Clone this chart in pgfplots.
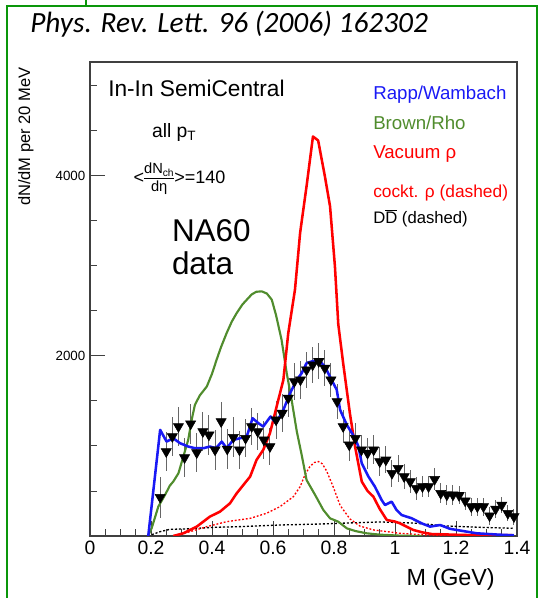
\documentclass[border=0pt]{standalone}
\usepackage{pgfplots}
\pgfplotsset{compat=1.18}
\usepackage{fontspec}
\setmainfont{Liberation Sans}
\newfontfamily\carlito{Carlito}
\definecolor{rwblue}{RGB}{25,25,245}
\definecolor{brgreen}{RGB}{80,140,45}
\definecolor{vred}{RGB}{255,0,0}
\definecolor{frgreen}{RGB}{10,150,10}
\begin{document}
\begin{tikzpicture}
\useasboundingbox (0,0) rectangle (404.25pt,448.5pt);
% slide frame
\draw[frgreen, line width=1.6pt] (5.25pt,-2pt) -- (5.25pt,444pt) -- (402.75pt,444pt) -- (402.75pt,-2pt);
\draw[frgreen, line width=1.6pt] (64.5pt,444pt) -- (64.5pt,450pt);
\node[anchor=base west, inner sep=0pt, font=\carlito\itshape\fontsize{22}{22}\selectfont] at (22.5pt,423.75pt) {Phys. Rev. Lett. 96 (2006) 162302};
\begin{axis}[
  at={(67.5pt,46.5pt)}, anchor=south west,
  width=320.25pt, height=355.5pt, scale only axis,
  xmin=0, xmax=1.4, ymin=0, ymax=5260,
  xtick={0,0.2,0.4,0.6,0.8,1,1.2,1.4},
  xticklabels={0,0.2,0.4,0.6,0.8,1,1.2,1.4},
  minor x tick num=3,
  ytick={2000,4000}, yticklabels={2000,4000},
  minor ytick={500,1000,1500,2500,3000,3500,4500,5000},
  tick pos=left, tick align=inside,
  major tick length=11.25pt, minor tick length=5.6pt,
  tick style={black!75, line width=0.6pt},
  axis line style={black!75, line width=0.9pt},
  x tick label style={font=\fontsize{14.5}{14.5}\selectfont, inner sep=3.5pt},
  y tick label style={font=\fontsize{10}{10}\selectfont},
  xlabel={M (GeV)}, ylabel={dN/dM per 20 MeV},
  every axis x label/.style={at={(axis description cs:0.9485,-0.1034)}, anchor=base east, font=\fontsize{17.5}{17.5}\selectfont, inner sep=0pt},
  every axis y label/.style={at={(axis description cs:-0.1405,0.9895)}, rotate=90, anchor=base east, font=\fontsize{12.4}{12.4}\selectfont, inner sep=0pt},
  clip=true,
]
% NA60 data
\addplot[only marks, mark=triangle*, mark size=4.4pt, mark options={rotate=180, draw=black, fill=black},
  error bars/.cd, y dir=both, y explicit, error mark=none, error bar style={black!60, line width=0.8pt}]
  table[x=M, y=N, y error=e] {
M N e
0.23 430 230
0.25 937 220
0.27 1104 220
0.29 1215 220
0.31 870 220
0.33 1245 220
0.35 925 220
0.37 1159 220
0.39 1122 220
0.41 956 220
0.43 1270 220
0.45 965 220
0.47 1095 220
0.49 956 210
0.51 1085 210
0.53 1215 210
0.55 1159 210
0.57 1067 210
0.59 993 210
0.61 1289 210
0.63 1363 210
0.65 1530 210
0.67 1715 210
0.69 1733 210
0.71 1844 200
0.73 1900 200
0.75 1937 200
0.77 1863 200
0.79 1733 190
0.81 1493 190
0.83 1215 180
0.85 1011 180
0.87 1085 170
0.89 956 170
0.91 919 170
0.93 956 160
0.95 826 160
0.97 844 150
0.99 696 150
1.01 752 150
1.03 659 140
1.05 604 130
1.07 530 130
1.09 548 120
1.11 548 120
1.13 630 120
1.15 474 110
1.17 456 110
1.19 456 110
1.21 450 100
1.23 390 100
1.25 326 100
1.27 326 100
1.29 326 100
1.31 225 100
1.33 300 100
1.35 344 90
1.37 252 90
1.39 215 90
};
% DD dashed
\addplot[black, line width=1pt, dash pattern=on 1.6pt off 1.4pt] coordinates {
(0.19,0) (0.23,48) (0.262,74) (0.328,80) (0.404,96) (0.492,104) (0.623,122) (0.754,133) (0.842,144) (0.951,156) (1.06,144) (1.17,111) (1.28,96) (1.388,85)};
% cocktail rho dotted
\addplot[vred, line width=1pt, dash pattern=on 1.4pt off 1.4pt] coordinates {
(0.273,0) (0.328,48) (0.383,104) (0.448,159) (0.525,196) (0.579,252) (0.623,326) (0.667,437) (0.689,548) (0.705,680) (0.721,770) (0.735,815) (0.749,826) (0.762,800) (0.776,720) (0.798,540) (0.820,340) (0.852,190) (0.885,110) (0.93,67) (1.016,30) (1.1,12) (1.2,5) (1.39,0)};
% Brown/Rho
\addplot[brgreen, line width=1.6pt, line join=round] coordinates {
(0.19,0) (0.202,85) (0.224,326) (0.246,456) (0.262,560) (0.273,604) (0.290,696) (0.306,881) (0.322,1067) (0.334,1300) (0.344,1456) (0.360,1560) (0.383,1659) (0.400,1800) (0.415,1955) (0.430,2100) (0.448,2252) (0.465,2380) (0.481,2474) (0.500,2570) (0.514,2622) (0.530,2680) (0.545,2710) (0.563,2715) (0.580,2690) (0.596,2622) (0.610,2450) (0.628,2178) (0.645,1807) (0.661,1511) (0.678,1160) (0.694,900) (0.710,622) (0.738,456) (0.765,289) (0.787,196) (0.814,159) (0.842,85) (0.870,55) (0.907,30) (0.95,15) (1.016,4) (1.09,0)};
% Vacuum rho
\addplot[vred, line width=1.9pt, line join=round] coordinates {
(0.273,0) (0.306,30) (0.350,104) (0.393,215) (0.426,270) (0.459,363) (0.481,474) (0.503,567) (0.525,659) (0.546,844) (0.568,956) (0.590,1141) (0.612,1437) (0.634,1733) (0.650,2250) (0.672,2733) (0.689,3367) (0.710,3881) (0.731,4433) (0.748,4389) (0.770,3993) (0.787,3659) (0.803,2993) (0.814,2350) (0.830,1918) (0.852,1363) (0.869,993) (0.891,604) (0.910,500) (0.929,437) (0.950,300) (0.973,178) (1.000,160) (1.016,141) (1.040,100) (1.060,67) (1.090,40) (1.12,22) (1.23,11) (1.39,8)};
% Rapp/Wambach
\addplot[rwblue, line width=1.9pt, line join=round] coordinates {
(0.191,0) (0.230,1178) (0.251,1048) (0.273,1085) (0.295,1030) (0.322,993) (0.344,974) (0.372,974) (0.393,993) (0.413,974) (0.432,1048) (0.448,974) (0.470,1067) (0.492,1085) (0.514,1104) (0.533,1307) (0.552,1252) (0.568,1215) (0.592,1326) (0.610,1252) (0.634,1400) (0.656,1585) (0.678,1733) (0.694,1807) (0.710,1918) (0.727,1937) (0.749,1955) (0.770,1881) (0.792,1733) (0.809,1622) (0.820,1400) (0.842,1233) (0.869,1085) (0.880,993) (0.891,807) (0.913,659) (0.934,548) (0.956,400) (0.967,344) (0.989,381) (1.005,289) (1.022,233) (1.055,196) (1.087,141) (1.115,104) (1.148,122) (1.180,80) (1.202,67) (1.268,30) (1.34,15) (1.39,8)};
\end{axis}
% annotations
\node[anchor=base west, inner sep=0pt, font=\fontsize{17}{17}\selectfont] at (81pt,376pt) {In-In SemiCentral};
\node[anchor=base west, inner sep=0pt, font=\fontsize{14.5}{14.5}\selectfont] at (113.8pt,345pt) {all p\textsubscript{T}};
\node[anchor=west, inner sep=0pt, font=\fontsize{13.5}{13.5}\selectfont] at (100pt,314.25pt) {<\begin{tabular}[c]{@{}c@{}}{\fontsize{11}{12}\selectfont dN\textsubscript{ch}}\\[-1pt]\hline{\fontsize{11}{12}\selectfont dη}\end{tabular}>=140};
\node[anchor=base west, inner sep=0pt, font=\fontsize{23.6}{23.6}\selectfont] at (128.8pt,267.2pt) {NA60};
\node[anchor=base west, inner sep=0pt, font=\fontsize{23.6}{23.6}\selectfont] at (128.8pt,242.25pt) {data};
\node[anchor=base west, inner sep=0pt, text=rwblue, font=\fontsize{14}{14}\selectfont] at (279.75pt,373.5pt) {Rapp/Wambach};
\node[anchor=base west, inner sep=0pt, text=brgreen, font=\fontsize{14}{14}\selectfont] at (279.75pt,351pt) {Brown/Rho};
\node[anchor=base west, inner sep=0pt, text=vred, font=\fontsize{14}{14}\selectfont] at (279.75pt,329.8pt) {Vacuum ρ};
\node[anchor=base west, inner sep=0pt, text=vred, font=\fontsize{13}{13}\selectfont] at (279.75pt,300pt) {cockt. ρ (dashed)};
\node[anchor=base west, inner sep=0pt, font=\fontsize{12.5}{12.5}\selectfont] at (279.75pt,281pt) {D$\overline{\mbox{D}}$ (dashed)};
\end{tikzpicture}
\end{document}
